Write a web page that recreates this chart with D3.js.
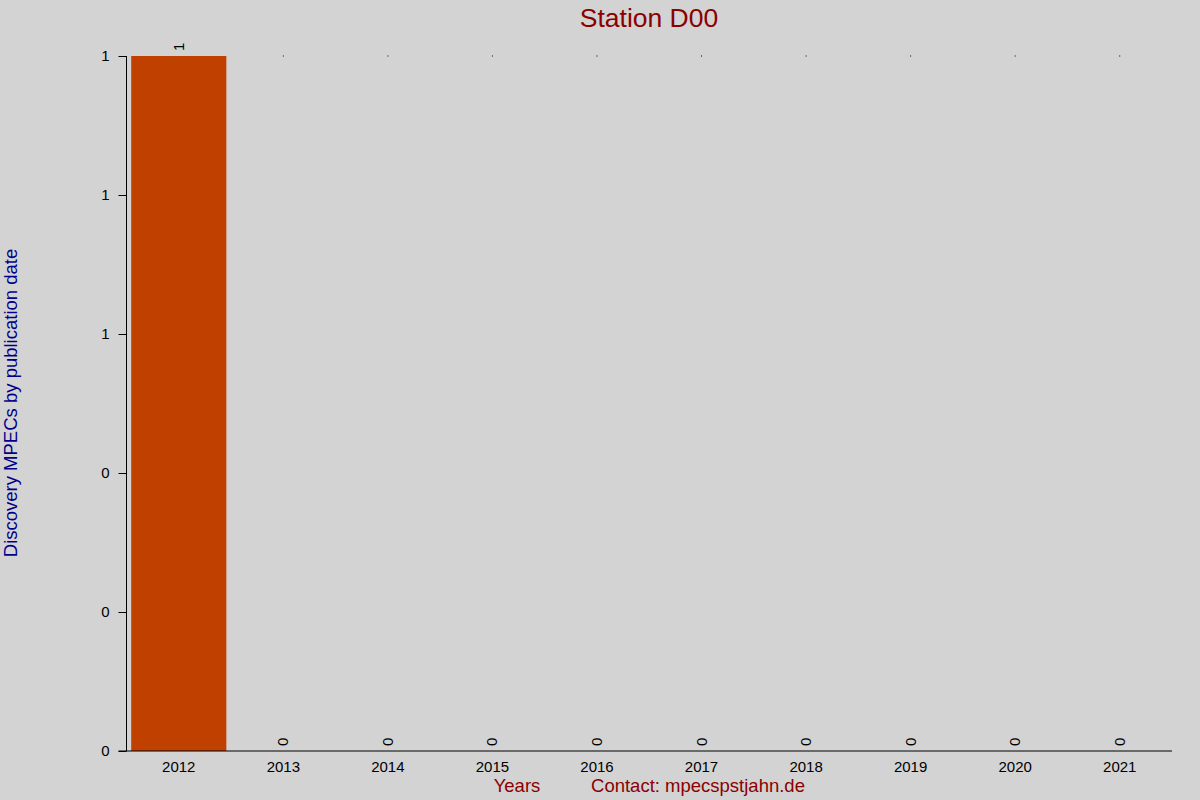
<html lang="en">
<head>
    <meta charset="UTF-8">
    <title>Station D00</title>
    <script src="https://d3js.org/d3.v7.min.js"></script>
    <style>
        body { margin: 0; background: #d3d3d3; }
        text { font-family: "Liberation Sans", Arial, sans-serif; }
    </style>
</head>
<body>
    <div id="chart"></div>
    <script>
        var years = ["2012", "2013", "2014", "2015", "2016", "2017", "2018", "2019", "2020", "2021"];
        var counts = [1, 0, 0, 0, 0, 0, 0, 0, 0, 0];
        var yTicks = [0, 0.2, 0.4, 0.6, 0.8, 1];
        var title = "Station D00";
        var yTitle = "Discovery MPECs by publication date";

        var width = 1200, height = 800;
        var plotLeft = 126.5, plotRight = 1172, plotTop = 56, plotBottom = 751;

        var svg = d3.select("#chart").append("svg")
            .attr("width", width)
            .attr("height", height);

        svg.append("rect")
            .attr("width", width)
            .attr("height", height)
            .attr("fill", "#d3d3d3");

        var xScale = d3.scaleBand()
            .domain(years)
            .range([plotLeft, plotRight])
            .paddingInner(0.09)
            .paddingOuter(0.045);

        var yScale = d3.scaleLinear()
            .domain([0, d3.max(counts)])
            .range([plotBottom, plotTop]);

        var data = years.map(function (y, i) { return { year: y, value: counts[i] }; });

        // bars
        svg.selectAll(".bar")
            .data(data)
            .enter()
            .append("rect")
            .attr("class", "bar")
            .attr("x", function (d) { return xScale(d.year); })
            .attr("y", function (d) { return yScale(d.value); })
            .attr("width", xScale.bandwidth())
            .attr("height", function (d) { return plotBottom - yScale(d.value); })
            .attr("fill", "#c04000");

        // small marks at the top for each empty year
        svg.selectAll(".dot")
            .data(data.filter(function (d) { return d.value === 0; }))
            .enter()
            .append("rect")
            .attr("x", function (d) { return xScale(d.year) + xScale.bandwidth() / 2 - 0.5; })
            .attr("y", yScale(1) - 0.5)
            .attr("width", 1)
            .attr("height", 1)
            .attr("fill", "#000");

        // value labels
        svg.selectAll(".val")
            .data(data)
            .enter()
            .append("text")
            .attr("transform", function (d) {
                var cx = xScale(d.year) + xScale.bandwidth() / 2 + 5;
                var cy = yScale(d.value) - 5;
                return "translate(" + cx + "," + cy + ") rotate(-90)";
            })
            .attr("font-size", 15)
            .attr("fill", "#000")
            .text(function (d) { return d.value; });

        // axes
        var yAxis = d3.axisLeft(yScale)
            .tickValues(yTicks)
            .tickFormat(d3.format(".0f"))
            .tickSize(8)
            .tickPadding(9);

        var gy = svg.append("g")
            .attr("transform", "translate(" + plotLeft + ",0)")
            .call(yAxis);
        gy.select(".domain").attr("d", "M0," + plotTop + "V" + plotBottom).attr("stroke", "#000");
        gy.selectAll("line").attr("stroke", "#000");
        gy.selectAll("text").attr("font-size", 15).attr("font-family", "Liberation Sans, Arial, sans-serif").attr("fill", "#000");

        var xAxis = d3.axisBottom(xScale).tickSize(0).tickPadding(10);
        var gx = svg.append("g")
            .attr("transform", "translate(0," + plotBottom + ")")
            .call(xAxis);
        gx.select(".domain").attr("d", "M" + (plotLeft - 8) + ",0H" + plotRight).attr("stroke", "#000");
        gx.selectAll("text").attr("font-size", 15).attr("font-family", "Liberation Sans, Arial, sans-serif").attr("fill", "#000");

        // titles
        svg.append("text")
            .attr("x", 649)
            .attr("y", 27)
            .attr("text-anchor", "middle")
            .attr("font-size", 26.5)
            .attr("fill", "#8b0000")
            .text(title);

        svg.append("text")
            .attr("transform", "translate(17,403) rotate(-90)")
            .attr("text-anchor", "middle")
            .attr("font-size", 18.5)
            .attr("fill", "#00008b")
            .text(yTitle);

        svg.append("text")
            .attr("x", 517)
            .attr("y", 792)
            .attr("text-anchor", "middle")
            .attr("font-size", 18.5)
            .attr("fill", "#8b0000")
            .text("Years");

        svg.append("text")
            .attr("x", 698)
            .attr("y", 792)
            .attr("text-anchor", "middle")
            .attr("font-size", 18.5)
            .attr("fill", "#8b0000")
            .text("Contact: mpecspstjahn.de");
    </script>
</body>
</html>
